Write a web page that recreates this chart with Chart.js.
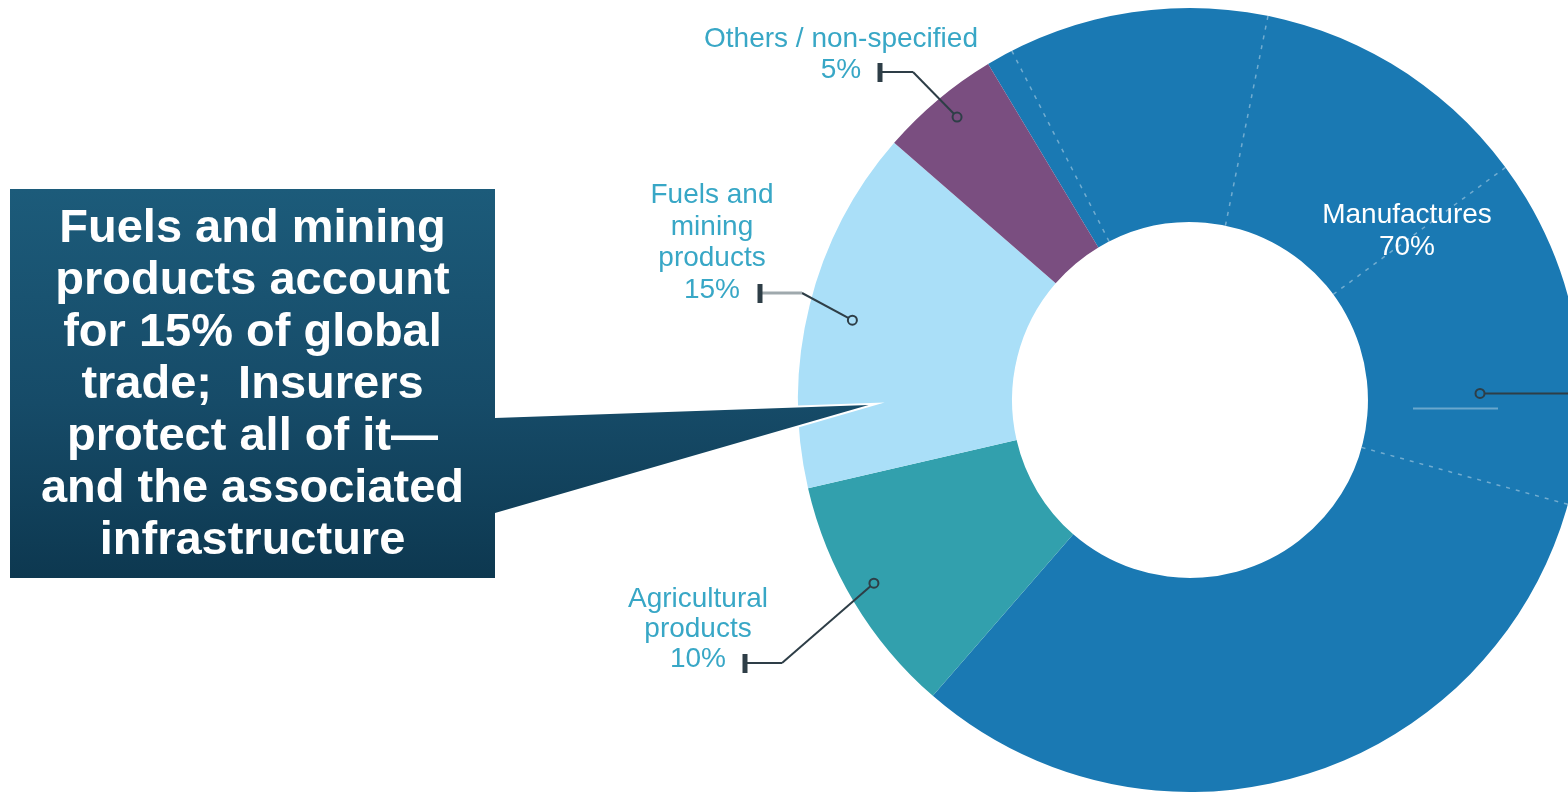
<!DOCTYPE html>
<html>
<head>
<meta charset="utf-8">
<script src="https://cdn.jsdelivr.net/npm/chart.js@4.4.1/dist/chart.umd.min.js"></script>
<style>
  html, body { margin: 0; padding: 0; background: #fff; }
  #trade { display: block; }
</style>
</head>
<body>
<canvas id="trade" width="1568" height="792"></canvas>
<script>
// Share of world merchandise trade, by product group (%)
var categories = ['Manufactures', 'Agricultural products', 'Fuels and mining products', 'Others / non-specified'];
var shares = [70, 10, 15, 5];
// sub-groups inside manufactures (dotted dividers), sums to 70
var manufacturesParts = [1.1, 10.7, 11.7, 14.4, 32.1];

var calloutLines = [
    'Fuels and mining',
    'products account',
    'for 15% of global',
    'trade;  Insurers',
    'protect all of it\u2014',
    'and the associated',
    'infrastructure'
];

var sliceColors = ['#1a79b3', '#32a0ad', '#aadff8', '#7a4e80'];
var labelColor = '#38a7c6';
var leaderColor = '#2e3e47';

// where each slice label sits, and how its leader runs
var labelSetup = [
    { lines: ['Manufactures'], cx: 1407, base: 223, lh: 32, color: '#ffffff', t: 0.475, r: 0.74, toEdge: true },
    { lines: ['Agricultural', 'products'], cx: 698, base: 607, lh: 30, t: 0.525, r: 0.932, elbow: [782, 663], barX: 745 },
    { lines: ['Fuels and', 'mining', 'products'], cx: 712, base: 203, lh: 31.5, t: 0.487, r: 0.885, elbow: [802, 293], barX: 760, light: true },
    { lines: ['Others / non-specified'], cx: 841, base: 47, lh: 31, t: 0.53, r: 0.935, elbow: [913, 72], barX: 880 }
];

var annotate = {
    id: 'annotate',
    afterDatasetsDraw: function(chart) {
        var ctx = chart.ctx;
        var arcs = chart.getDatasetMeta(0).data;
        var first = arcs[0].getProps(['x', 'y', 'startAngle', 'innerRadius', 'outerRadius']);
        var cx = first.x, cy = first.y;
        var total = shares.reduce(function(a, b) { return a + b; }, 0);

        // dotted dividers inside manufactures
        ctx.save();
        ctx.strokeStyle = 'rgba(255,255,255,0.38)';
        ctx.lineWidth = 1.5;
        ctx.setLineDash([4, 6]);
        var acc = 0;
        for (var i = 0; i < manufacturesParts.length - 1; i++) {
            acc += manufacturesParts[i];
            var a = first.startAngle + acc / total * Math.PI * 2;
            ctx.beginPath();
            ctx.moveTo(cx + Math.cos(a) * first.innerRadius, cy + Math.sin(a) * first.innerRadius);
            ctx.lineTo(cx + Math.cos(a) * first.outerRadius, cy + Math.sin(a) * first.outerRadius);
            ctx.stroke();
        }
        ctx.restore();

        // leaders + labels
        labelSetup.forEach(function(cfg, idx) {
            var arc = arcs[idx].getProps(['startAngle', 'endAngle', 'outerRadius']);
            var ang = arc.startAngle + (arc.endAngle - arc.startAngle) * cfg.t;
            var px = cx + Math.cos(ang) * arc.outerRadius * cfg.r;
            var py = cy + Math.sin(ang) * arc.outerRadius * cfg.r;

            ctx.save();
            ctx.strokeStyle = leaderColor;
            ctx.lineWidth = 2;
            if (cfg.toEdge) {
                // faint rule under the anchor
                ctx.strokeStyle = 'rgba(255,255,255,0.35)';
                ctx.beginPath();
                ctx.moveTo(px - 67, py + 15);
                ctx.lineTo(px + 18, py + 15);
                ctx.stroke();
                ctx.strokeStyle = leaderColor;
                ctx.beginPath();
                ctx.moveTo(px + 5, py);
                ctx.lineTo(chart.width, py);
                ctx.stroke();
            } else {
                var ex = cfg.elbow[0], ey = cfg.elbow[1];
                ctx.beginPath();
                ctx.moveTo(px, py);
                ctx.lineTo(ex, ey);
                ctx.stroke();
                ctx.strokeStyle = cfg.light ? '#9fa9ad' : leaderColor;
                ctx.lineWidth = cfg.light ? 3 : 2;
                ctx.beginPath();
                ctx.moveTo(ex, ey);
                ctx.lineTo(cfg.barX, ey);
                ctx.stroke();
                ctx.fillStyle = leaderColor;
                ctx.fillRect(cfg.barX - 2.5, ey - 9, 5, 19);
            }
            ctx.beginPath();
            ctx.arc(px, py, 4.5, 0, Math.PI * 2);
            ctx.fillStyle = sliceColors[idx];
            ctx.fill();
            ctx.strokeStyle = leaderColor;
            ctx.lineWidth = 2;
            ctx.stroke();
            ctx.restore();

            ctx.save();
            ctx.font = '28px "Liberation Sans", Arial, sans-serif';
            ctx.fillStyle = cfg.color || labelColor;
            ctx.textAlign = 'center';
            ctx.textBaseline = 'alphabetic';
            var lines = cfg.lines.concat([shares[idx] + '%']);
            lines.forEach(function(txt, k) {
                ctx.fillText(txt, cfg.cx, cfg.base + k * cfg.lh);
            });
            ctx.restore();
        });
    },
    afterDraw: function(chart) {
        // callout box with pointer into the fuels slice
        var ctx = chart.ctx;
        var arcs = chart.getDatasetMeta(0).data;
        var fuel = arcs[2].getProps(['x', 'y', 'startAngle', 'endAngle', 'outerRadius']);
        var at = fuel.startAngle + (fuel.endAngle - fuel.startAngle) * 0.224;
        var tipX = fuel.x + Math.cos(at) * fuel.outerRadius * 0.82;
        var tipY = fuel.y + Math.sin(at) * fuel.outerRadius * 0.82;

        var L = 10, T = 189, R = 495, B = 578;
        ctx.save();
        var grad = ctx.createLinearGradient(0, T, 0, B);
        grad.addColorStop(0, '#1c5b7a');
        grad.addColorStop(0.55, '#164b68');
        grad.addColorStop(1, '#0d3850');
        ctx.beginPath();
        ctx.moveTo(L, T);
        ctx.lineTo(R, T);
        ctx.lineTo(R, 418);
        ctx.lineTo(tipX, tipY);
        ctx.lineTo(R, 513);
        ctx.lineTo(R, B);
        ctx.lineTo(L, B);
        ctx.closePath();
        ctx.strokeStyle = '#ffffff';
        ctx.lineWidth = 4;
        ctx.lineJoin = 'miter';
        ctx.stroke();
        ctx.fillStyle = grad;
        ctx.fill();

        ctx.font = 'bold 47px "Liberation Sans", Arial, sans-serif';
        ctx.fillStyle = '#ffffff';
        ctx.textAlign = 'center';
        ctx.textBaseline = 'alphabetic';
        calloutLines.forEach(function(txt, k) {
            ctx.fillText(txt, (L + R) / 2, 242 + k * 52);
        });
        ctx.restore();
    }
};

var ctx = document.getElementById('trade').getContext('2d');
var chart = new Chart(ctx, {
    type: 'doughnut',
    data: {
        labels: categories,
        datasets: [{
            data: shares,
            backgroundColor: sliceColors,
            borderWidth: 0
        }]
    },
    options: {
        responsive: false,
        animation: false,
        events: [],
        rotation: -31,
        radius: 392,
        cutout: '45.4%',
        layout: { padding: { left: 812, right: 0, top: 8, bottom: 0 } },
        plugins: {
            legend: { display: false },
            tooltip: { enabled: false }
        }
    },
    plugins: [annotate]
});
</script>
</body>
</html>
